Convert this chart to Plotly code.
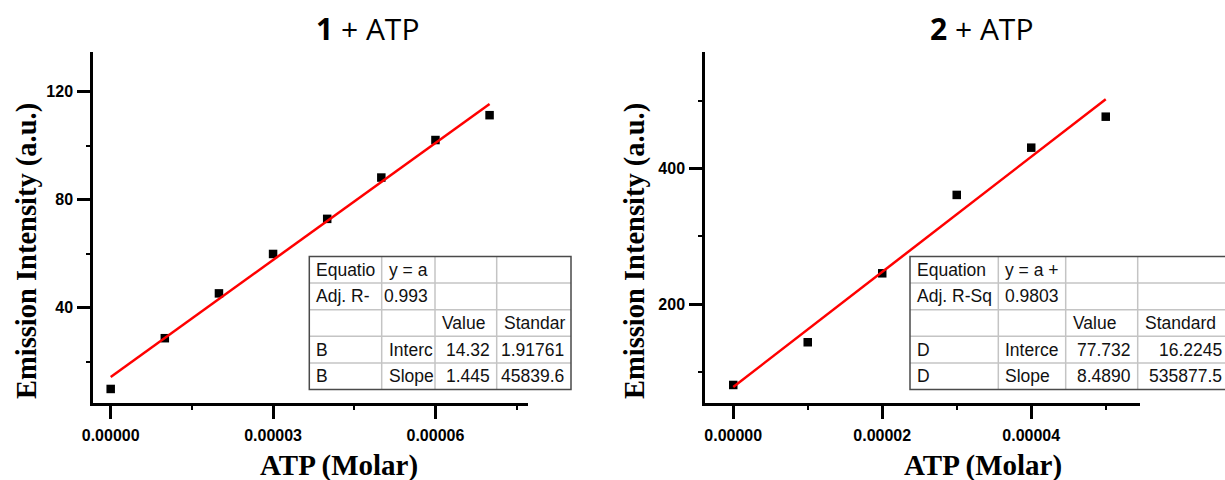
import plotly.graph_objects as go

W, H = 1225, 480

# ---- data -------------------------------------------------------------
conc_1 = [0, 1e-5, 2e-5, 3e-5, 4e-5, 5e-5, 6e-5, 7e-5]
intensity_1 = [9.9, 28.7, 45.3, 59.9, 72.9, 88.2, 102.1, 111.3]
fit_intercept_1 = 14.32
fit_slope_1 = 1.445e6

conc_2 = [0, 1e-5, 2e-5, 3e-5, 4e-5, 5e-5]
intensity_2 = [80.7, 143.7, 245.4, 361.0, 430.7, 476.4]
fit_intercept_2 = 77.732
fit_slope_2 = 8.489e6

titles = ["<b>1</b> + ATP", "<b>2</b> + ATP"]
x_title = "ATP (Molar)"
y_title = "Emission Intensity (a.u.)"

table_1 = [
    ["Equatio", "y = a", "", ""],
    ["Adj. R-", "0.993", "", ""],
    ["", "", "Value", "Standar"],
    ["B", "Interc", "14.32", "1.91761"],
    ["B", "Slope", "1.445", "45839.6"],
]
table_2 = [
    ["Equation", "y = a +", "", ""],
    ["Adj. R-Sq", "0.9803", "", ""],
    ["", "", "Value", "Standard"],
    ["D", "Interce", "77.732", "16.2245"],
    ["D", "Slope", "8.4890", "535877.5"],
]


def px(x):
    return x / W


def py(y):
    return 1 - y / H


def is_number(s):
    try:
        float(s)
        return True
    except ValueError:
        return False


fig = go.Figure()

panels = [
    dict(xs=conc_1, ys=intensity_1, a=fit_intercept_1, b=fit_slope_1,
         xa="x", ya="y", dom_x=(93, 528), xrange=(-0.327e-5, 7.71e-5),
         yrange=(4.7, 134.7), xdtick=3e-5, ydtick=40,
         title_x=367, xtitle_x=339, ytitle_x=27,
         table=table_1, cols=[309.3, 381.7, 435, 496.7, 571]),
    dict(xs=conc_2, ys=intensity_2, a=fit_intercept_2, b=fit_slope_2,
         xa="x2", ya="y2", dom_x=(705, 1140), xrange=(-0.379e-5, 5.46e-5),
         yrange=(54.1, 571.8), xdtick=2e-5, ydtick=200,
         title_x=982, xtitle_x=983, ytitle_x=635,
         table=table_2, cols=[910, 998.3, 1065.7, 1137.7, 1229]),
]

plot_top, plot_bottom = 52, 403
tick_font = dict(family="Liberation Sans, Arial", size=16, color="black",
                 weight="bold")

shapes = []
annotations = []

for i, p in enumerate(panels):
    # measured points
    fig.add_trace(go.Scatter(
        x=p["xs"], y=p["ys"], mode="markers", xaxis=p["xa"], yaxis=p["ya"],
        marker=dict(symbol="square", size=8.5, color="black"),
        showlegend=False))
    # linear fit y = a + b*x
    fx = [p["xs"][0], p["xs"][-1]]
    fy = [p["a"] + p["b"] * v for v in fx]
    fig.add_trace(go.Scatter(
        x=fx, y=fy, mode="lines", xaxis=p["xa"], yaxis=p["ya"],
        line=dict(color="#ff0000", width=2.5), showlegend=False))

    suffix = "" if i == 0 else "2"
    axis_common = dict(showline=True, linecolor="black", linewidth=2.5,
                       ticks="outside", ticklen=13, tickwidth=2.5,
                       tickcolor="black", showgrid=False, zeroline=False,
                       tickfont=tick_font, automargin=False)
    fig.layout["xaxis" + suffix] = dict(
        domain=[px(p["dom_x"][0]), px(p["dom_x"][1])],
        anchor="y" + suffix, range=list(p["xrange"]),
        tick0=0, dtick=p["xdtick"], tickformat=".5f", ticklabelstandoff=3,
        minor=dict(ticks="outside", ticklen=4, tickwidth=1.5,
                   tickcolor="black", tick0=0, dtick=p["xdtick"] / 2),
        **axis_common)
    fig.layout["yaxis" + suffix] = dict(
        domain=[py(plot_bottom), py(plot_top)],
        anchor="x" + suffix, range=list(p["yrange"]),
        tick0=0, dtick=p["ydtick"], ticklabelstandoff=1,
        minor=dict(ticks="outside", ticklen=4, tickwidth=1.5,
                   tickcolor="black", tick0=0, dtick=p["ydtick"] / 2),
        **axis_common)

    # panel title and axis titles
    annotations.append(dict(
        text=titles[i], x=px(p["title_x"]), y=py(28), xref="paper", yref="paper",
        xanchor="center", yanchor="middle", showarrow=False,
        font=dict(family="Open Sans", size=30, color="black")))
    annotations.append(dict(
        text="<b>%s</b>" % x_title, x=px(p["xtitle_x"]), y=py(465),
        xref="paper", yref="paper", xanchor="center", yanchor="middle",
        showarrow=False,
        font=dict(family="Liberation Serif", size=29, color="black")))
    annotations.append(dict(
        text="<b>%s</b>" % y_title, x=px(p["ytitle_x"]), y=py(251),
        xref="paper", yref="paper", xanchor="center", yanchor="middle",
        textangle=-90, showarrow=False,
        font=dict(family="Liberation Serif", size=28.5, color="black")))

    # fit results table
    cols = p["cols"]
    top, row_h = 256.5, 26.6
    rows = p["table"]
    bottom = top + row_h * len(rows)
    shapes.append(dict(type="rect", xref="paper", yref="paper", layer="above",
                       x0=px(cols[0]), x1=px(cols[-1]), y0=py(bottom), y1=py(top),
                       fillcolor="white", line=dict(width=0)))
    for r in range(1, len(rows)):
        yy = py(top + r * row_h)
        shapes.append(dict(type="line", xref="paper", yref="paper", layer="above",
                           x0=px(cols[0]), x1=px(cols[-1]), y0=yy, y1=yy,
                           line=dict(color="#c4c4c4", width=1.5)))
    for c in range(1, len(cols) - 1):
        shapes.append(dict(type="line", xref="paper", yref="paper", layer="above",
                           x0=px(cols[c]), x1=px(cols[c]), y0=py(bottom), y1=py(top),
                           line=dict(color="#c4c4c4", width=1.5)))
    shapes.append(dict(type="rect", xref="paper", yref="paper", layer="above",
                       x0=px(cols[0]), x1=px(cols[-1]), y0=py(bottom), y1=py(top),
                       line=dict(color="#4a4a4a", width=1.5)))
    for r, row in enumerate(rows):
        yc = py(top + (r + 0.5) * row_h)
        for c, txt in enumerate(row):
            if not txt:
                continue
            if is_number(txt):
                xx, anchor = px(cols[c + 1] - 5), "right"
            else:
                xx, anchor = px(cols[c] + 5), "left"
            annotations.append(dict(
                text=txt, x=xx, y=yc, xref="paper", yref="paper",
                xanchor=anchor, yanchor="middle", showarrow=False,
                font=dict(family="Liberation Sans", size=17.5, color="#111111")))

fig.update_layout(
    width=W, height=H, margin=dict(l=0, r=0, t=0, b=0),
    paper_bgcolor="white", plot_bgcolor="white",
    shapes=shapes, annotations=annotations,
)

fig.write_html("out.html")
